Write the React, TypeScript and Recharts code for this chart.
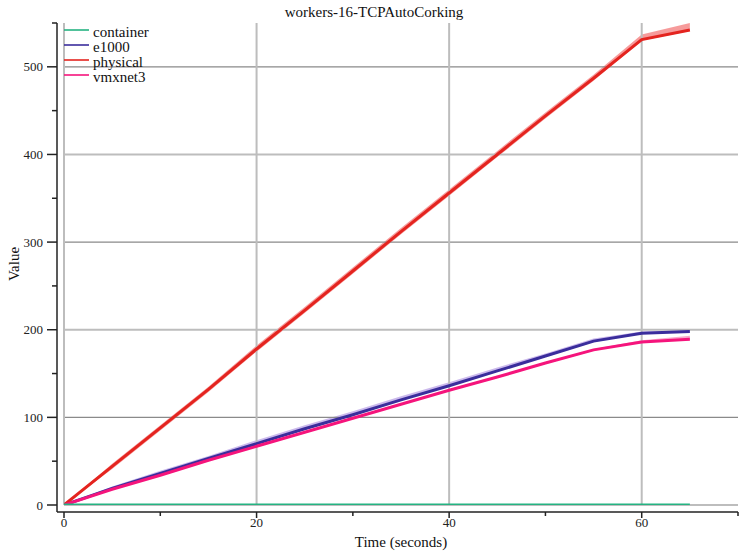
import {
  Area,
  ComposedChart,
  Legend,
  Line,
  ReferenceLine,
  XAxis,
  YAxis,
} from 'recharts';

const FONT = "'Liberation Serif', 'Times New Roman', serif";

// sample times (seconds)
const times = [0, 5, 10, 15, 20, 25, 30, 35, 40, 45, 50, 55, 60, 65];

const container = [0, 0, 0, 0, 0, 0, 0, 0, 0, 0, 0, 0, 0, 0];

const e1000 = [0, 19, 36, 53, 70, 87, 103, 120, 136, 153, 170, 187, 196, 198];
const e1000Low = [0, 18, 35, 52, 69, 86, 102, 119, 135, 152, 169, 186, 195, 197];
const e1000High = [0, 21, 39, 56, 74, 91, 107, 124, 140, 157, 173, 190, 198, 199];

const physical = [0, 44, 88, 132, 178, 222, 267, 312, 356, 400, 444, 487, 531, 542];
const physicalLow = [0, 41, 85, 129, 175, 219, 264, 309, 353, 397, 441, 484, 530, 541];
const physicalHigh = [0, 47, 91, 135, 182, 226, 271, 316, 360, 404, 448, 491, 537, 550];

const vmxnet3 = [0, 18, 34, 51, 67, 83, 99, 115, 131, 146, 162, 177, 186, 189];
const vmxnet3Low = [0, 17, 33, 50, 66, 82, 98, 114, 130, 145, 161, 176, 186, 188];
const vmxnet3High = [0, 19, 35, 52, 68, 84, 100, 116, 132, 147, 163, 178, 188, 193];

const xTicks = [0, 10, 20, 30, 40, 50, 60, 70];
const yTicks = [0, 50, 100, 150, 200, 250, 300, 350, 400, 450, 500, 550];
const xGrid = [0, 20, 40, 60];
const yGridLight = [0, 200, 400];
const yGridDark = [100, 300, 500];

const series = [
  { key: 'container', name: 'container', color: '#25b382' },
  { key: 'e1000', name: 'e1000', color: '#3a2d9c' },
  { key: 'physical', name: 'physical', color: '#e4241f' },
  { key: 'vmxnet3', name: 'vmxnet3', color: '#f5147c' },
];

const data = times.map((t, i) => ({
  t,
  container: container[i],
  e1000: e1000[i],
  e1000Band: [e1000Low[i], e1000High[i]],
  physical: physical[i],
  physicalBand: [physicalLow[i], physicalHigh[i]],
  vmxnet3: vmxnet3[i],
  vmxnet3Band: [vmxnet3Low[i], vmxnet3High[i]],
}));

function XTick(props: any) {
  const { x, y, payload } = props;
  const major = payload.value % 20 === 0 && payload.value < 70;
  return (
    <g>
      <line x1={x} x2={x} y1={y} y2={y + (major ? 6 : 4)} stroke="#222" strokeWidth={1.5} />
      {major && (
        <text x={x} y={y + 15} textAnchor="middle" fontSize={13} fontFamily={FONT} fill="#222">
          {payload.value}
        </text>
      )}
    </g>
  );
}

function YTick(props: any) {
  const { x, y, payload } = props;
  const major = payload.value % 100 === 0;
  return (
    <g>
      <line x1={x - (major ? 10 : 5)} x2={x} y1={y} y2={y} stroke="#222" strokeWidth={1.5} />
      {major && (
        <text x={x - 14} y={y} dy="0.35em" textAnchor="end" fontSize={13} fontFamily={FONT} fill="#222">
          {payload.value}
        </text>
      )}
    </g>
  );
}

function LegendBox() {
  return (
    <svg width={120} height={66} style={{ display: 'block' }}>
      {series.map((s, i) => (
        <g key={s.key}>
          <line x1={0} x2={25} y1={8 + i * 15} y2={8 + i * 15} stroke={s.color} strokeWidth={1.6} />
          <text x={29} y={15 + i * 15} fontSize={15} fontFamily={FONT} fill="#111">
            {s.name}
          </text>
        </g>
      ))}
    </svg>
  );
}

export default function App() {
  return (
    <div style={{ position: 'absolute', left: 0, top: 0, width: 739, height: 552, background: '#fff', fontFamily: FONT }}>
      <div
        style={{
          position: 'absolute',
          left: 274,
          top: 4,
          width: 200,
          textAlign: 'center',
          fontSize: 15,
          lineHeight: '17px',
          color: '#111',
          zIndex: 2,
        }}
      >
        workers-16-TCPAutoCorking
      </div>
      <ComposedChart width={739} height={552} data={data} margin={{ top: 23, right: 1, bottom: 0, left: 0 }}>
        {yGridLight.map((v) => (
          <ReferenceLine key={`gl${v}`} segment={[{ x: 0, y: v }, { x: 70, y: v }]} stroke="#bdbdbd" strokeWidth={2} />
        ))}
        {yGridDark.map((v) => (
          <ReferenceLine key={`gd${v}`} segment={[{ x: 0, y: v }, { x: 70, y: v }]} stroke="#8a8a8a" strokeWidth={1.3} />
        ))}
        {xGrid.map((v) => (
          <ReferenceLine key={`gx${v}`} segment={[{ x: v, y: 0 }, { x: v, y: 550 }]} stroke="#bdbdbd" strokeWidth={2} />
        ))}
        <XAxis
          type="number"
          dataKey="t"
          domain={[0, 70]}
          ticks={xTicks}
          interval={0}
          allowDataOverflow
          padding={{ left: 7, right: 0 }}
          height={40}
          tickSize={0}
          tickMargin={0}
          tickLine={false}
          axisLine={{ stroke: '#222', strokeWidth: 1.5 }}
          tick={<XTick />}
          label={{
            content: (p: any) => {
              const vb = p.viewBox;
              return (
                <text x={vb.x + 7 + (vb.width - 7) / 2} y={vb.y + 35} textAnchor="middle" fontSize={15} fontFamily={FONT} fill="#111">
                  Time (seconds)
                </text>
              );
            },
          }}
        />
        <YAxis
          type="number"
          domain={[0, 550]}
          ticks={yTicks}
          interval={0}
          allowDataOverflow
          padding={{ top: 0, bottom: 7 }}
          width={57}
          tickSize={0}
          tickMargin={0}
          tickLine={false}
          axisLine={{ stroke: '#222', strokeWidth: 1.5 }}
          tick={<YTick />}
          label={{
            content: (p: any) => {
              const vb = p.viewBox;
              const cy = vb.y + (vb.height - 7) / 2;
              return (
                <text x={19} y={cy} transform={`rotate(-90, 19, ${cy})`} textAnchor="middle" fontSize={15} fontFamily={FONT} fill="#111">
                  Value
                </text>
              );
            },
          }}
        />
        <Area type="linear" dataKey="e1000Band" stroke="none" fill="#a98be0" fillOpacity={0.6} isAnimationActive={false} legendType="none" />
        <Area type="linear" dataKey="physicalBand" stroke="none" fill="#f58a8a" fillOpacity={0.85} isAnimationActive={false} legendType="none" />
        <Area type="linear" dataKey="vmxnet3Band" stroke="none" fill="#f79ac4" fillOpacity={0.85} isAnimationActive={false} legendType="none" />
        <Line type="linear" dataKey="e1000" stroke="#3a2d9c" strokeWidth={3} dot={false} isAnimationActive={false} />
        <Line type="linear" dataKey="physical" stroke="#e4241f" strokeWidth={3} dot={false} isAnimationActive={false} />
        <Line type="linear" dataKey="vmxnet3" stroke="#f5147c" strokeWidth={3} dot={false} isAnimationActive={false} />
        <Line type="linear" dataKey="container" stroke="#25b382" strokeWidth={3} dot={false} isAnimationActive={false} />
        <Legend
          layout="vertical"
          align="center"
          verticalAlign="middle"
          wrapperStyle={{ position: 'absolute', left: 64, top: 22, width: 120, height: 66 }}
          content={() => <LegendBox />}
        />
      </ComposedChart>
    </div>
  );
}
